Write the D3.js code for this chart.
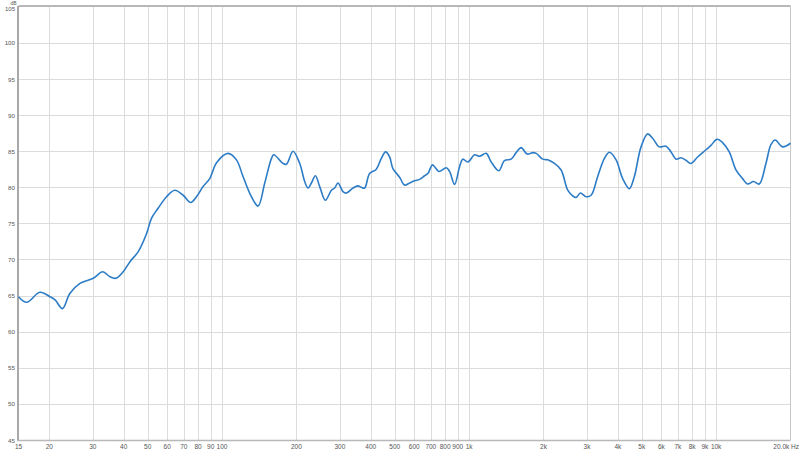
<!DOCTYPE html>
<html><head><meta charset="utf-8">
<script src="https://cdn.jsdelivr.net/npm/d3@7"></script>
<style>html,body{margin:0;padding:0;background:#fff;}svg{display:block;}</style>
</head><body>
<script>
const freqs = [15,16.2,18.3,20.1,21.1,22.6,24.2,26.6,30.1,32.9,35.2,37.2,39.8,42.4,45.8,49.5,51.8,55.1,59.6,64.4,69.6,74.6,78.8,83.8,89.2,95.0,105.8,114.4,121.6,131.5,139.9,148.9,158.5,161.9,176.6,182.3,193.8,206.3,216.1,222.9,230.0,238.7,248.5,262.0,277.1,285.7,294.7,308.7,318.6,338.8,354.9,366.3,377.7,395.7,421.2,441.3,459.3,476.7,491.6,523.3,548.2,574.3,601.8,630.5,660.5,681.1,709.6,724.9,754.6,808.4,833.6,873.5,915.1,943.6,988.4,1052,1102,1173,1229,1319,1391,1480,1551,1625,1718,1810,1869,1987,2081,2215,2358,2508,2628,2713,2824,2977,3119,3316,3530,3698,3936,4185,4454,4667,4966,5282,5533,5889,6268,6567,6880,7209,7504,7913,8414,9098,9531,10077,10619,11303,12030,12794,13404,14174,14945,15907,16664,17346,18564,20000];
const levels = [64.85,64.07,65.46,64.85,64.4,63.2,65.3,66.7,67.4,68.3,67.6,67.4,68.3,69.7,71.1,73.6,75.7,77.1,78.7,79.6,78.9,77.9,78.7,80.1,81.2,83.4,84.7,83.8,81.5,78.7,77.4,80.6,84.0,84.5,83.3,83.2,85.0,83.3,80.8,79.9,80.6,81.6,80.1,78.2,79.6,79.9,80.6,79.4,79.2,79.9,80.2,80.0,79.9,81.9,82.5,84.0,84.9,84.2,82.6,81.4,80.3,80.6,80.9,81.1,81.6,81.9,83.1,82.85,82.2,82.7,82.2,80.4,82.85,83.9,83.5,84.5,84.3,84.7,83.5,82.3,83.7,83.9,84.8,85.5,84.6,84.8,84.7,83.9,83.8,83.3,82.4,79.6,78.8,78.6,79.2,78.7,78.9,81.5,84.0,84.85,83.8,81.2,79.8,81.5,85.6,87.4,86.8,85.6,85.7,84.9,83.9,84.1,83.8,83.3,84.2,85.2,85.8,86.65,86.2,84.9,82.4,81.2,80.45,80.8,80.45,83.3,85.9,86.55,85.6,86.1];
const gridFreqs = [20,30,40,50,60,70,80,90,100,200,300,400,500,600,700,800,900,1000,2000,3000,4000,5000,6000,7000,8000,9000,10000];
const xTickFreqs = [15,20,30,40,50,60,70,80,90,100,200,300,400,500,600,700,800,900,1000,2000,3000,4000,5000,6000,7000,8000,9000,10000,20000];
const xTickLabels = ["15","20","30","40","50","60","70","80","90","100","200","300","400","500","600","700","800","900","1k","2k","3k","4k","5k","6k","7k","8k","9k","10k","20.0k Hz"];
const yTicks = [45,50,55,60,65,70,75,80,85,90,95,100,105];

const W = 800, H = 451;
const L = 18.5, R = 790.5, T = 6.8, B = 440;
const svg = d3.select("body").append("svg").attr("width", W).attr("height", H);
const x = d3.scaleLog().domain([15, 20000]).range([L, R]);
const y = d3.scaleLinear().domain([45, 105]).range([B, T]);
const FONT = "Liberation Sans, Arial, sans-serif";

// grid
svg.append("g").selectAll("line").data(gridFreqs).join("line")
  .attr("x1", d => Math.round(x(d)) + 0.5).attr("x2", d => Math.round(x(d)) + 0.5)
  .attr("y1", T).attr("y2", B).attr("stroke", "#dcdcdc").attr("stroke-width", 1);
svg.append("g").selectAll("line").data(yTicks.slice(1, -1)).join("line")
  .attr("x1", L).attr("x2", R)
  .attr("y1", d => Math.round(y(d)) + 0.5).attr("y2", d => Math.round(y(d)) + 0.5)
  .attr("stroke", "#dcdcdc").attr("stroke-width", 1);

// frame
svg.append("line").attr("x1", L).attr("x2", R).attr("y1", 6).attr("y2", 6).attr("stroke", "#b8b8b8").attr("stroke-width", 2);
svg.append("line").attr("x1", R).attr("x2", R).attr("y1", 6).attr("y2", B).attr("stroke", "#c8c8c8").attr("stroke-width", 1);
svg.append("line").attr("x1", 18).attr("x2", 18).attr("y1", 6).attr("y2", B + 1).attr("stroke", "#a8a8a8").attr("stroke-width", 2);
svg.append("line").attr("x1", 17).attr("x2", R).attr("y1", B + 0.5).attr("y2", B + 0.5).attr("stroke", "#b8b8b8").attr("stroke-width", 1.5);

// y labels
svg.append("g").selectAll("text").data(yTicks).join("text")
  .attr("x", 15).attr("y", d => d === 105 ? 11.2 : y(d) + 2.5).attr("text-anchor", "end")
  .attr("font-family", FONT).attr("font-size", d => d === 105 ? 6 : 6.2).attr("fill", "#555")
  .text(d => d);
svg.append("text").attr("x", 10.5).attr("y", 4.6).attr("font-family", FONT)
  .attr("font-size", 5).attr("fill", "#555").text("dB");

// x labels
svg.append("g").selectAll("text").data(xTickFreqs).join("text")
  .attr("x", (d, i) => i === xTickFreqs.length - 1 ? 799 : x(d))
  .attr("y", 449)
  .attr("text-anchor", (d, i) => i === xTickFreqs.length - 1 ? "end" : "middle")
  .attr("font-family", FONT).attr("font-size", 6.5).attr("fill", "#555")
  .text((d, i) => xTickLabels[i]);

// curve
const pts = freqs.map((f, i) => [f, levels[i]]);
svg.append("path").datum(pts)
  .attr("fill", "none").attr("stroke", "#2d7cc6").attr("stroke-width", 1.6)
  .attr("stroke-linejoin", "round")
  .attr("d", d3.line().x(d => x(d[0])).y(d => y(d[1])).curve(d3.curveCatmullRom.alpha(0.5)));
</script>
</body></html>
